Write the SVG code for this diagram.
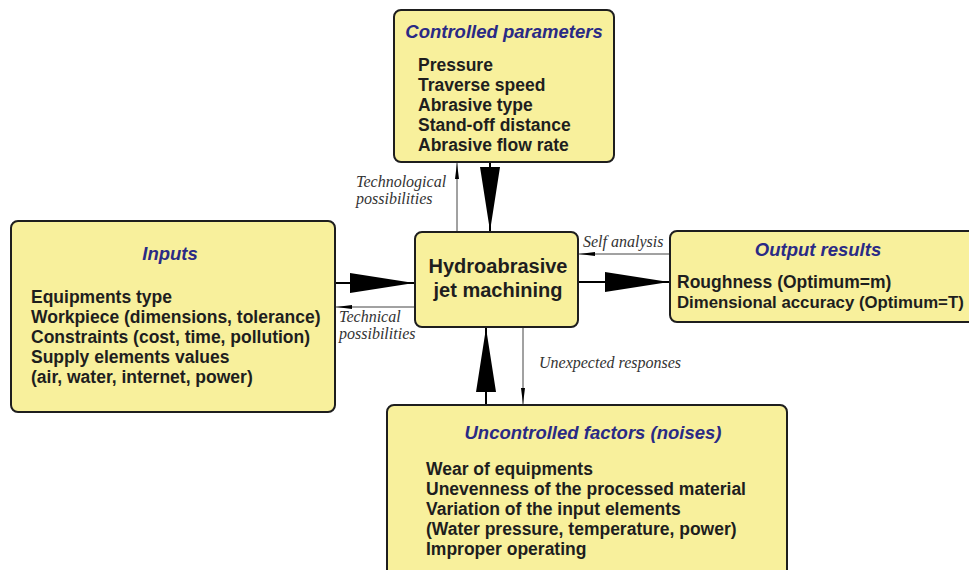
<svg xmlns="http://www.w3.org/2000/svg" width="969" height="570" viewBox="0 0 969 570">
<style>
.box{fill:#f8f09c;stroke:#1e1e1e;stroke-width:2}
.title{font-family:"Liberation Sans",Arial,sans-serif;font-weight:bold;font-style:italic;font-size:18.5px;fill:#2a2a85;text-anchor:middle}
.body{font-family:"Liberation Sans",Arial,sans-serif;font-weight:bold;font-size:17.5px;fill:#1e1e1e}
.main{font-family:"Liberation Sans",Arial,sans-serif;font-weight:bold;font-size:20px;fill:#1e1e1e;text-anchor:middle}
.lbl{font-family:"Liberation Serif","Times New Roman",serif;font-style:italic;font-size:16px;fill:#333}
.big{stroke:#000;stroke-width:2;fill:none;marker-end:url(#bigHead)}
.thin{stroke:#444;stroke-width:1;fill:none;marker-end:url(#thinHead)}
</style>
<defs>
<marker id="bigHead" viewBox="0 0 64 20" refX="64" refY="10" markerWidth="64" markerHeight="20" markerUnits="userSpaceOnUse" orient="auto">
<path d="M0,0 L64,10 L0,20 z" fill="#000"/>
</marker>
<marker id="thinHead" viewBox="0 0 16 4" refX="16" refY="2" markerWidth="16" markerHeight="4" markerUnits="userSpaceOnUse" orient="auto">
<path d="M0,0 L16,2 L0,4 z" fill="#000"/>
</marker>
</defs>
<rect width="969" height="570" fill="#fff"/>

<g id="connectors">
<line class="big" x1="490" y1="162" x2="490" y2="231"/>
<line class="thin" x1="457" y1="232" x2="457" y2="163"/>
<line class="big" x1="335" y1="283" x2="414" y2="283"/>
<line class="thin" x1="415" y1="307" x2="336" y2="307"/>
<line class="big" x1="578" y1="282" x2="669" y2="282"/>
<line class="thin" x1="670" y1="254" x2="579" y2="254"/>
<line class="big" x1="486" y1="405" x2="486" y2="328"/>
<line class="thin" x1="523" y1="327" x2="523" y2="404"/>
<text class="lbl" x="356" y="187">Technological</text>
<text class="lbl" x="356" y="204">possibilities</text>
<text class="lbl" x="339" y="322">Technical</text>
<text class="lbl" x="339" y="339">possibilities</text>
<text class="lbl" x="583" y="247">Self analysis</text>
<text class="lbl" x="539" y="368">Unexpected responses</text>
</g>

<g id="controlled">
<rect class="box" x="394" y="10" width="220" height="152" rx="7"/>
<text class="title" x="504" y="38">Controlled parameters</text>
<text class="body" x="418" y="71">Pressure</text>
<text class="body" x="418" y="91">Traverse speed</text>
<text class="body" x="418" y="111">Abrasive type</text>
<text class="body" x="418" y="131">Stand-off distance</text>
<text class="body" x="418" y="151">Abrasive flow rate</text>
</g>

<g id="inputs">
<rect class="box" x="11" y="221" width="324" height="191" rx="7"/>
<text class="title" x="170" y="260">Inputs</text>
<text class="body" x="31" y="303">Equipments type</text>
<text class="body" x="31" y="323">Workpiece (dimensions, tolerance)</text>
<text class="body" x="31" y="343">Constraints (cost, time, pollution)</text>
<text class="body" x="31" y="363">Supply elements values</text>
<text class="body" x="31" y="383">(air, water, internet, power)</text>
</g>

<g id="hydro">
<rect class="box" x="415" y="232" width="163" height="95" rx="7"/>
<text class="main" x="498" y="273">Hydroabrasive</text>
<text class="main" x="498" y="297">jet machining</text>
</g>

<g id="output">
<rect class="box" x="670" y="231" width="306" height="91" rx="7"/>
<text class="title" x="818" y="256">Output results</text>
<text class="body" x="677" y="288">Roughness (Optimum=m)</text>
<text class="body" x="677" y="308" style="font-size:16.8px">Dimensional accuracy (Optimum=T)</text>
</g>

<g id="uncontrolled">
<rect class="box" x="387" y="405" width="400" height="180" rx="7"/>
<text class="title" x="593" y="439">Uncontrolled factors (noises)</text>
<text class="body" x="426" y="475">Wear of equipments</text>
<text class="body" x="426" y="495">Unevenness of the processed material</text>
<text class="body" x="426" y="515">Variation of the input elements</text>
<text class="body" x="426" y="535">(Water pressure, temperature, power)</text>
<text class="body" x="426" y="555">Improper operating</text>
</g>
</svg>
